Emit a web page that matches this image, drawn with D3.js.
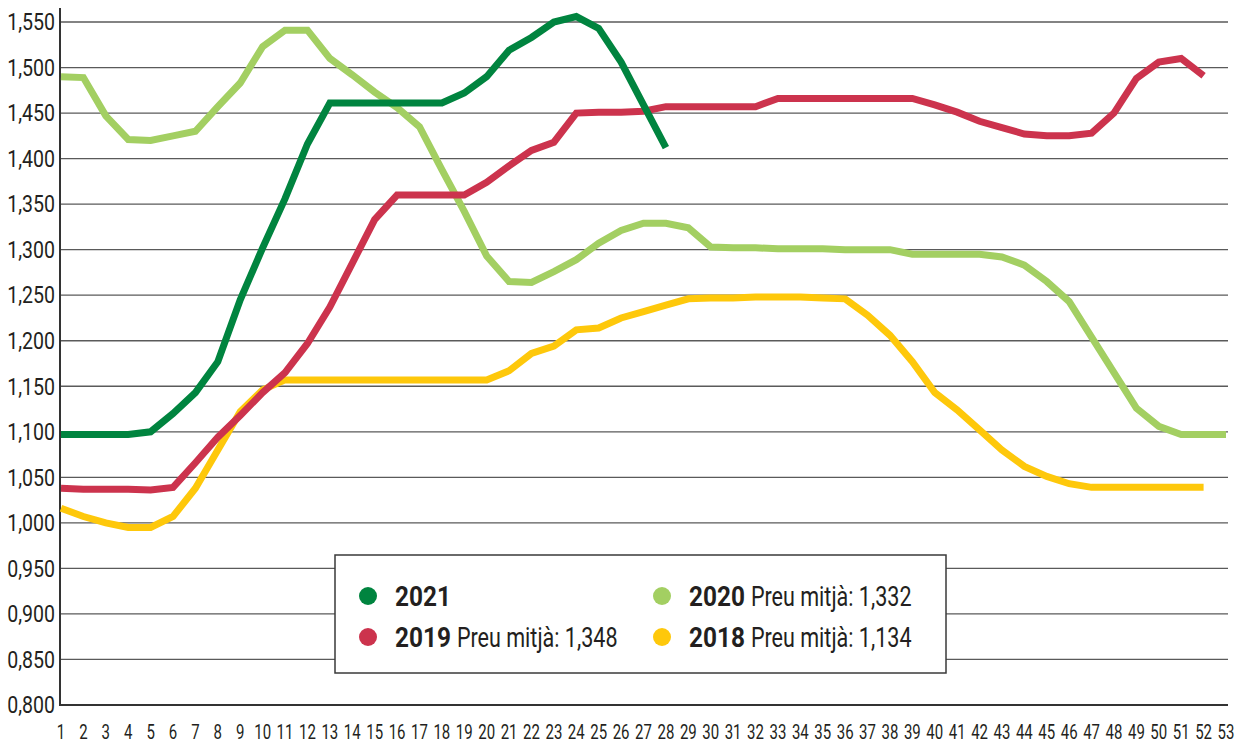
<!DOCTYPE html>
<html>
<head>
<meta charset="utf-8">
<script src="https://cdn.jsdelivr.net/npm/d3@7"></script>
<style>
  body { margin: 0; background: #fff; }
  text { font-family: Roboto, 'Noto Sans', sans-serif; fill: #231f20; }
</style>
</head>
<body>
<div id="chart"></div>
<script>
// week numbers on the x axis
const weeks = [1, 2, 3, 4, 5, 6, 7, 8, 9, 10, 11, 12, 13, 14, 15, 16, 17, 18, 19, 20,
  21, 22, 23, 24, 25, 26, 27, 28, 29, 30, 31, 32, 33, 34, 35, 36, 37, 38, 39, 40,
  41, 42, 43, 44, 45, 46, 47, 48, 49, 50, 51, 52, 53]

const yTicks = [0.8, 0.85, 0.9, 0.95, 1.0, 1.05, 1.1, 1.15, 1.2, 1.25, 1.3, 1.35, 1.4, 1.45, 1.5, 1.55]

const values2021 = [1.097, 1.097, 1.097, 1.097, 1.100, 1.120, 1.143, 1.177, 1.245, 1.302,
  1.356, 1.416, 1.461, 1.461, 1.461, 1.461, 1.461, 1.461, 1.472, 1.490,
  1.519, 1.533, 1.550, 1.556, 1.543, 1.506, 1.459, 1.412]

const values2020 = [1.490, 1.489, 1.447, 1.421, 1.420, 1.425, 1.430, 1.457, 1.483, 1.523,
  1.541, 1.541, 1.510, 1.492, 1.473, 1.456, 1.435, 1.388, 1.342, 1.293,
  1.265, 1.264, 1.276, 1.289, 1.307, 1.321, 1.329, 1.329, 1.324, 1.303,
  1.302, 1.302, 1.301, 1.301, 1.301, 1.300, 1.300, 1.300, 1.295, 1.295,
  1.295, 1.295, 1.292, 1.283, 1.265, 1.243, 1.204, 1.165, 1.126, 1.106,
  1.097, 1.097, 1.097]

const values2019 = [1.038, 1.037, 1.037, 1.037, 1.036, 1.039, 1.066, 1.094, 1.118, 1.143,
  1.165, 1.197, 1.237, 1.285, 1.333, 1.360, 1.360, 1.360, 1.360, 1.374,
  1.392, 1.409, 1.418, 1.450, 1.451, 1.451, 1.452, 1.457, 1.457, 1.457,
  1.457, 1.457, 1.466, 1.466, 1.466, 1.466, 1.466, 1.466, 1.466, 1.459,
  1.451, 1.441, 1.434, 1.427, 1.425, 1.425, 1.428, 1.450, 1.488, 1.506,
  1.510, 1.491]

const values2018 = [1.016, 1.007, 1.000, 0.995, 0.995, 1.007, 1.038, 1.080, 1.122, 1.146,
  1.157, 1.157, 1.157, 1.157, 1.157, 1.157, 1.157, 1.157, 1.157, 1.157,
  1.167, 1.186, 1.194, 1.212, 1.214, 1.225, 1.232, 1.239, 1.246, 1.247,
  1.247, 1.248, 1.248, 1.248, 1.247, 1.246, 1.228, 1.206, 1.177, 1.143,
  1.124, 1.102, 1.080, 1.062, 1.051, 1.043, 1.039, 1.039, 1.039, 1.039,
  1.039, 1.039]

const years = ['2021', '2020', '2019', '2018']
const averages = [null, '1,332', '1,348', '1,134']
const colors = ['#00843f', '#a3cf62', '#cc334d', '#fec80b']
const seriesValues = [values2021, values2020, values2019, values2018]

const margin = { top: 22, left: 61, right: 17, bottom: 39 }
const width = 1243 - margin.left - margin.right
const height = 744 - margin.top - margin.bottom

const svg = d3
  .select('#chart')
  .append('svg')
  .attr('width', width + margin.left + margin.right)
  .attr('height', height + margin.top + margin.bottom)
  .append('g')
  .attr('transform', 'translate(' + margin.left + ',' + margin.top + ')')

const xScale = d3.scaleLinear().domain([1, 53]).range([0, width])
const yScale = d3.scaleLinear().domain([0.8, 1.55]).range([height, 0])

const fmt = d => d3.format('.3f')(d).replace('.', ',')

// grid lines
svg
  .selectAll('.grid')
  .data(yTicks.filter(d => d > 0.8))
  .enter()
  .append('line')
  .attr('class', 'grid')
  .attr('x1', -1)
  .attr('x2', width + 2)
  .attr('y1', d => yScale(d))
  .attr('y2', d => yScale(d))
  .attr('stroke', '#5a5a5a')
  .attr('stroke-width', 1.3)

// y labels (condensed look with a horizontal squeeze)
svg
  .selectAll('.y-label')
  .data(yTicks)
  .enter()
  .append('text')
  .attr('class', 'y-label')
  .attr('transform', d => `translate(-6,${yScale(d)}) scale(0.85,1)`)
  .attr('dy', '0.36em')
  .attr('text-anchor', 'end')
  .style('font-size', '23px')
  .text(fmt)

// x labels
svg
  .selectAll('.x-label')
  .data(weeks)
  .enter()
  .append('text')
  .attr('class', 'x-label')
  .attr('transform', d => `translate(${xScale(d)},${height + 34}) scale(0.75,1)`)
  .attr('text-anchor', 'middle')
  .style('font-size', '20px')
  .text(d => d)

// axes lines
svg
  .append('line')
  .attr('x1', -1)
  .attr('x2', -1)
  .attr('y1', -14)
  .attr('y2', height + 1)
  .attr('stroke', '#333')
  .attr('stroke-width', 2)

svg
  .append('line')
  .attr('x1', -2)
  .attr('x2', width + 2)
  .attr('y1', height)
  .attr('y2', height)
  .attr('stroke', '#333')
  .attr('stroke-width', 2)

const line = d3
  .line()
  .x((d, i) => xScale(weeks[i]))
  .y(d => yScale(d))

// draw bottom series first, 2021 last
const drawOrder = [3, 1, 2, 0]
svg
  .selectAll('.series')
  .data(drawOrder)
  .enter()
  .append('path')
  .attr('class', 'series')
  .attr('d', i => line(seriesValues[i]))
  .attr('fill', 'none')
  .attr('stroke', i => colors[i])
  .attr('stroke-width', 7)
  .attr('stroke-linejoin', 'miter')

// legend
const legend = svg
  .append('g')
  .attr('class', 'legend')
  .attr('transform', 'translate(' + (335 - margin.left) + ',' + (555 - margin.top) + ')')

legend
  .append('rect')
  .attr('width', 611)
  .attr('height', 118)
  .attr('fill', '#fff')
  .attr('stroke', '#3a3a3a')
  .attr('stroke-width', 1.5)

const legendPos = [[0, 0], [294, 0], [0, 41], [294, 41]]

legend
  .selectAll('.legend-row')
  .data(years)
  .enter()
  .append('g')
  .attr('class', 'legend-row')
  .attr('transform', (d, i) => `translate(${legendPos[i][0]},${legendPos[i][1]})`)
  .each(function(d, i) {
    const g = d3.select(this)

    g.append('circle')
      .attr('cx', 33)
      .attr('cy', 41)
      .attr('r', 9)
      .attr('fill', colors[i])

    const bold = g
      .append('text')
      .attr('transform', 'translate(60,51) scale(0.87,1)')
      .style('font-size', '28px')
      .style('font-weight', 'bold')
      .text(d)

    if (averages[i]) {
      const w = bold.node().getComputedTextLength() * 0.87
      g.append('text')
        .attr('transform', `translate(${60 + w + 6},51) scale(0.77,1)`)
        .style('font-size', '28px')
        .text('Preu mitjà: ' + averages[i])
    }
  })
</script>
</body>
</html>
